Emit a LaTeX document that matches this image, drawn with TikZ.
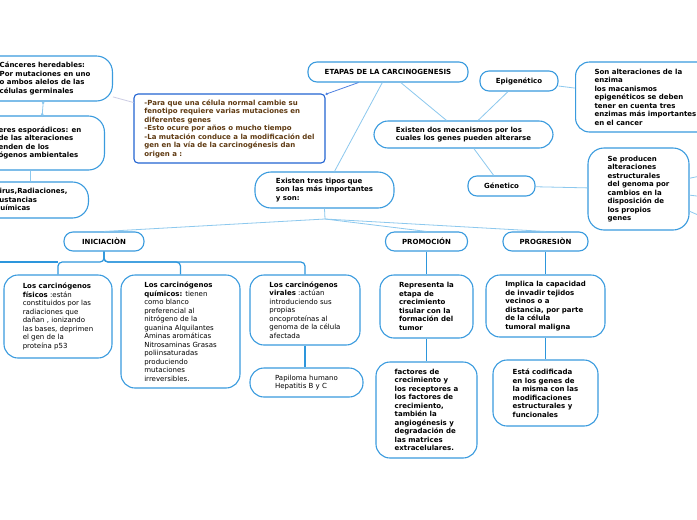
\documentclass[tikz,border=0pt]{standalone}
\usepackage{fontspec}
\setmainfont{DejaVu Sans}
\usetikzlibrary{positioning,arrows.meta}
\usepackage{xcolor}
\definecolor{boxblue}{RGB}{58,155,222}
\definecolor{linkblue}{RGB}{140,200,238}
\definecolor{trunkblue}{RGB}{45,150,220}
\definecolor{notablue}{RGB}{35,100,210}
\definecolor{notalink}{RGB}{80,130,225}
\definecolor{notabrown}{RGB}{95,58,18}
\definecolor{greylink}{RGB}{205,205,228}

\begin{document}
\begin{tikzpicture}[x=1pt,y=-1pt,
    card/.style={font=\fontsize{7}{8.5}\selectfont, draw=boxblue, line width=1.1pt,
        rounded corners=14pt, align=left, fill=white, inner sep=0pt},
    boldcard/.style={card, font=\fontsize{7}{8.5}\selectfont\bfseries},
    pill/.style={boldcard, rounded corners=9pt},
    link/.style={draw=linkblue, line width=0.8pt},
    trunk/.style={draw=trunkblue, line width=1.2pt}]

        \useasboundingbox (0,0) rectangle (697,520);
        \clip (0,0) rectangle (697,520);
        \fill[white] (0,0) rectangle (697,520);

        % Draw the top row
        \node[pill, minimum width=160pt, minimum height=20pt] (etapas) at (388,72) {ETAPAS DE LA CARCINOGENESIS};
        \node[pill, minimum width=78pt, minimum height=20pt] (epi) at (519,81) {Epigenético};
        \node[boldcard, anchor=west, inner xsep=19pt, minimum height=70pt] (sonalt) at (575,97)
            {Son alteraciones de la\\enzima\\los macanismos\\epigenéticos se deben\\tener en cuenta tres\\enzimas más importantes\\en el cancer};
        \node[boldcard, minimum width=179pt, minimum height=27pt] (dos) at (463.5,134.5)
            {Existen dos mecanismos por los\\cuales los genes pueden alterarse};
        \node[pill, minimum width=67pt, minimum height=20pt] (gen) at (501.5,186) {Génetico};
        \node[boldcard, minimum width=101pt, minimum height=82pt, rounded corners=16pt] (seprod) at (638.5,189)
            {Se producen\\alteraciones\\estructurales\\del genoma por\\cambios en la\\disposición de\\los propios\\genes};

        % Draw the left column
        \node[boldcard, anchor=east, inner xsep=22pt, minimum height=45pt, rounded corners=16pt] (hered) at (113,78.5)
            {Cánceres heredables:\\Por mutaciones en uno\\o ambos alelos de las\\células germinales};
        \node[boldcard, anchor=east, inner xsep=23pt, minimum height=54pt, rounded corners=16pt] (espor) at (105,143)
            {eres esporádicos: en\\de las alteraciones\\enden de los\\ógenos ambientales};
        \node[boldcard, anchor=east, inner xsep=21pt, minimum height=36pt, rounded corners=16pt] (virus) at (89,200)
            {Virus,Radiaciones,\\Sustancias\\Químicas};
        \node[boldcard, draw=notablue, text=notabrown, rounded corners=4pt, minimum width=191pt, minimum height=69pt] (para) at (229.5,128.5)
            {-Para que una célula normal cambie su\\fenotipo requiere varias mutaciones en\\diferentes genes\\-Esto ocure por años o mucho tiempo\\-La mutación conduce a la modificación del\\gen en la vía de la carcinogénesis dan\\origen a :};
        \node[boldcard, minimum width=139pt, minimum height=36pt, rounded corners=16pt] (tres) at (324.5,190)
            {Existen tres tipos que\\son las más importantes\\y son:};

        % Draw the three stages
        \node[pill, minimum width=80pt, minimum height=19pt] (ini) at (104,241.5) {INICIACIÒN};
        \node[pill, minimum width=82pt, minimum height=19pt] (promo) at (426.5,241.5) {PROMOCIÓN};
        \node[pill, minimum width=85pt, minimum height=19pt] (progr) at (545.5,241.5) {PROGRESIÒN};

        \node[card, minimum width=108pt, minimum height=83pt] (fisicos) at (58,316.5)
            {\textbf{Los carcinógenos}\\\textbf{físicos} :están\\constituidos por las\\radiaciones que\\dañan , ionizando\\las bases, deprimen\\el gen de la\\proteína p53};
        \node[card, minimum width=119pt, minimum height=113pt] (quimicos) at (180.5,331.5)
            {\textbf{Los carcinógenos}\\\textbf{químicos:} tienen\\como blanco\\preferencial al\\nitrógeno de la\\guanina Alquilantes\\Aminas aromáticas\\Nitrosaminas Grasas\\poliinsaturadas\\produciendo\\mutaciones\\irreversibles.};
        \node[card, minimum width=110pt, minimum height=70pt] (virales) at (305,310)
            {\textbf{Los carcinógenos}\\\textbf{virales} :actúan\\introduciendo sus\\propias\\oncoproteínas al\\genoma de la célula\\afectada};
        \node[card, minimum width=113pt, minimum height=29pt] (papi) at (306.5,382.5)
            {Papiloma humano\\Hepatitis B y C};

        \node[boldcard, minimum width=93pt, minimum height=63pt] (repre) at (426.5,306.5)
            {Representa la\\etapa de\\crecimiento\\tisular con la\\formación del\\tumor};
        \node[boldcard, minimum width=101pt, minimum height=96pt] (fact) at (426.5,410)
            {factores de\\crecimiento y\\los receptores a\\los factores de\\crecimiento,\\también la\\angiogénesis y\\degradación de\\las matrices\\extracelulares.};
        \node[boldcard, minimum width=119pt, minimum height=62pt] (impl) at (545.5,306)
            {Implica la capacidad\\de invadir tejidos\\vecinos o a\\distancia, por parte\\de la célula\\tumoral maligna};
        \node[boldcard, minimum width=105pt, minimum height=66pt] (cod) at (545.5,393)
            {Está codificada\\en los genes de\\la misma con las\\modificaciones\\estructurales y\\funcionales};

        % Draw the connectors of the upper part
        \draw[notalink, line width=0.8pt, -{Circle[length=2.5pt]}] (etapas) -- (para);
        \draw[greylink, line width=0.8pt] (para) -- (hered);
        \draw[link] (etapas) -- (tres);
        \draw[link] (etapas) -- (dos);
        \draw[link] (epi) -- (dos);
        \draw[link] (epi) -- (sonalt);
        \draw[link] (dos) -- (gen);
        \draw[link] (gen) -- (seprod);
        \draw[link, {Circle[length=2.5pt]}-{Circle[length=2.5pt]}] (hered) -- (espor);
        \draw[link] (virus.north) -- (virus.north |- espor.south);

        % Optionally, the branches leaving the picture on the right
        \coordinate (r1) at (705,175);
        \coordinate (r2) at (705,197);
        \coordinate (r3) at (705,218);
        \foreach \r in {r1,r2,r3} {
            \draw[link] (seprod) -- (\r);
        }

        % Draw the fan to the three stages
        \coordinate (fork) at (325,219);
        \draw[link] (tres.south) -- (fork);
        \foreach \n in {ini,promo,progr} {
            \draw[link] (fork) -- (\n.north);
        }

        % Draw the branches under each stage
        \foreach \n in {fisicos,quimicos,virales} {
            \draw[trunk, rounded corners=4pt] (ini.south) -- ++(0,10.5) -| (\n.north);
        }
        \coordinate (barleft) at (0,262);
        \draw[trunk] (barleft) -- (fisicos.north |- barleft);
        \foreach \a/\b in {promo/repre,repre/fact,progr/impl,impl/cod,virales/papi} {
            \draw[trunk] (\a.south) -- (\a.south |- \b.north);
        }
\end{tikzpicture}
\end{document}
